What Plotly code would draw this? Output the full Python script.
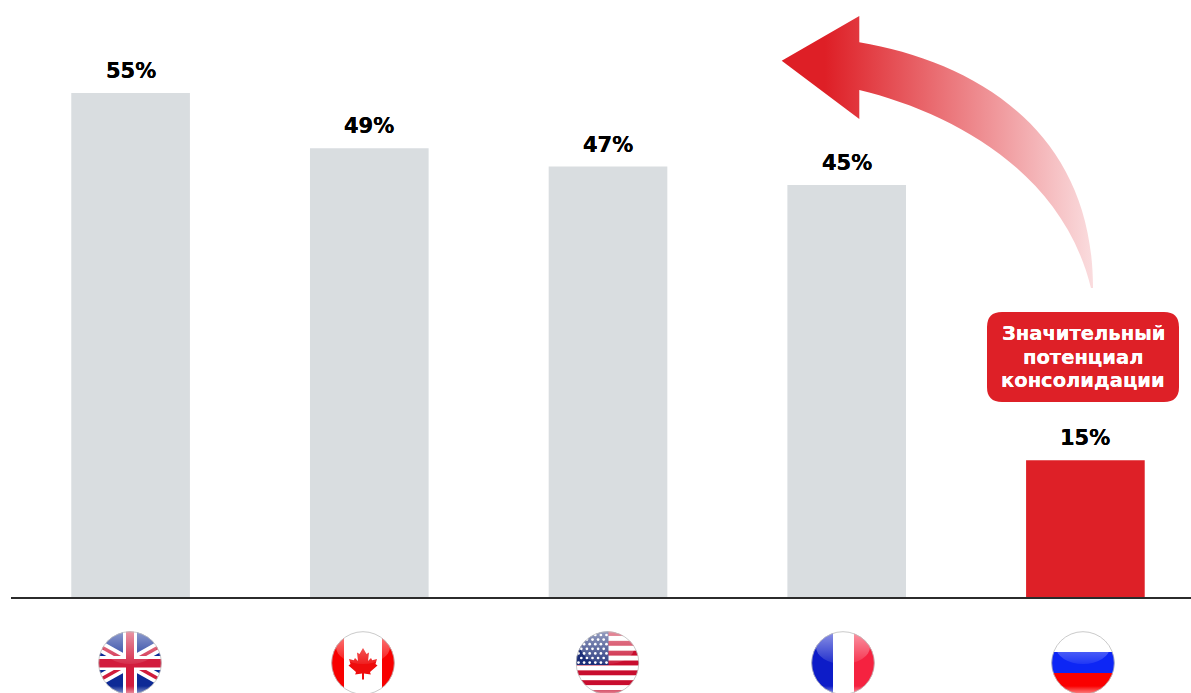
import base64
import plotly.graph_objects as go

# Share of the market held by the leading players, by country
countries = ["Великобритания", "Канада", "США", "Франция", "Россия"]
shares = [55, 49, 47, 45, 15]
grey = "#D9DDE0"
red = "#DE2027"
bar_colors = [grey, grey, grey, grey, red]
callout_lines = ["Значительный", "потенциал", "консолидации"]

W, H = 1191, 693
BASE_Y = 598          # pixel row of the zero line
PX_PER_UNIT = 9.18    # pixels per percentage point
CENTER0, STEP = 130.6, 238.7
HEAVY = "DejaVu Sans"


def data_uri(svg):
    return "data:image/svg+xml;base64," + base64.b64encode(svg.encode("utf-8")).decode()


def px(x):
    return x / W


def py(y):
    return 1 - y / H


def uk_flag():
    diag = ""
    for s in (0.56, -0.56):
        y1, y2 = 32 - 40 * s, 32 + 40 * s
        diag += f'<line x1="-8" y1="{y1}" x2="72" y2="{y2}" stroke="#fff" stroke-width="11"/>'
        diag += f'<line x1="-8" y1="{y1}" x2="72" y2="{y2}" stroke="#CF1E3C" stroke-width="3.5"/>'
    return (
        '<rect width="64" height="64" fill="#0A2A96"/>' + diag +
        '<rect x="25" width="14" height="64" fill="#fff"/><rect y="25" width="64" height="14" fill="#fff"/>'
        '<rect x="28" width="8" height="64" fill="#D21C3E"/><rect y="28" width="64" height="8.5" fill="#D21C3E"/>'
    )


def canada_flag():
    half = [(0, -16), (3.5, -10), (6, -11.5), (5, -3), (8, -6), (9.2, -3.8), (14, -5), (12.5, 0),
            (14.5, 1.5), (7, 8), (7.8, 10.5), (1, 9.5), (1, 15.5)]
    pts = half + [(-x, y) for x, y in reversed(half)]
    leaf = " ".join(f"{32 + x:.1f},{33 + y:.1f}" for x, y in pts)
    return (
        '<rect width="64" height="64" fill="#fff"/>'
        '<rect width="13" height="64" fill="#F80000"/><rect x="51" width="13" height="64" fill="#F80000"/>'
        f'<polygon points="{leaf}" fill="#EE0A0A"/>'
    )


def usa_flag():
    out = '<rect width="64" height="64" fill="#fff"/>'
    for i in range(0, 14, 2):
        out += f'<rect y="{i * 4.92:.2f}" width="64" height="4.92" fill="#C8102E"/>'
    out += '<rect width="33" height="34" fill="#1E2F78"/>'
    for r in range(7):
        for c in range(6):
            x = 3 + c * 5.6 + (2.8 if r % 2 else 0)
            y = 4 + r * 4.6
            if x < 32:
                out += f'<circle cx="{x:.1f}" cy="{y:.1f}" r="1.35" fill="#fff"/>'
    return out


def france_flag():
    return (
        '<rect width="22" height="64" fill="#0A1CC8"/><rect x="22" width="21" height="64" fill="#fff"/>'
        '<rect x="43" width="21" height="64" fill="#F5213F"/>'
    )


def russia_flag():
    return (
        '<rect width="64" height="21" fill="#fff"/><rect y="21" width="64" height="21" fill="#0A28F5"/>'
        '<rect y="42" width="64" height="22" fill="#FA0000"/>'
    )


def glossy_badge(content):
    # Round badge: flag clipped to a circle with a soft highlight above and a glow below
    svg = (
        '<svg xmlns="http://www.w3.org/2000/svg" width="256" height="256" viewBox="0 0 64 64">'
        '<defs><clipPath id="c"><circle cx="32" cy="32" r="31.5"/></clipPath>'
        '<linearGradient id="g" x1="0" y1="0" x2="0" y2="1">'
        '<stop offset="0" stop-color="#fff" stop-opacity="0.55"/>'
        '<stop offset="1" stop-color="#fff" stop-opacity="0.08"/></linearGradient>'
        '<linearGradient id="b" x1="0" y1="0" x2="0" y2="1">'
        '<stop offset="0.86" stop-color="#fff" stop-opacity="0"/>'
        '<stop offset="1" stop-color="#fff" stop-opacity="0.6"/></linearGradient>'
        '<filter id="s"><feGaussianBlur stdDeviation="0.4"/></filter></defs>'
        f'<g clip-path="url(#c)"><g filter="url(#s)">{content}</g>'
        '<rect width="64" height="64" fill="url(#b)"/>'
        '<ellipse cx="32" cy="16" rx="27" ry="17" fill="url(#g)"/></g>'
        '<circle cx="32" cy="32" r="31.3" fill="none" stroke="#BDBDBD" stroke-width="0.8"/></svg>'
    )
    return data_uri(svg)


def curved_arrow():
    # Sweeping arrow that fades from solid red at the head to pale pink at the tail
    path = (
        "M781.7,60.7 L859.3,16 L859.3,42.3 "
        "C975,62 1093,130 1093,288 "
        "L1091,288 C1062,170 950,112 859.3,90 "
        "L859.3,119 Z"
    )
    svg = (
        f'<svg xmlns="http://www.w3.org/2000/svg" width="{W}" height="{H}" viewBox="0 0 {W} {H}">'
        '<defs><linearGradient id="a" gradientUnits="userSpaceOnUse" x1="825" y1="0" x2="1093" y2="0">'
        '<stop offset="0" stop-color="#DE1F26"/><stop offset="1" stop-color="#FADCDE"/>'
        '</linearGradient></defs>'
        f'<path d="{path}" fill="url(#a)"/></svg>'
    )
    return data_uri(svg)


fig = go.Figure(
    go.Bar(
        x=list(range(len(countries))),
        y=shares,
        width=0.497,
        marker=dict(color=bar_colors, line_width=0),
        hoverinfo="skip",
    )
)

images = [
    dict(source=curved_arrow(), xref="paper", yref="paper", x=0, y=1, sizex=1, sizey=1,
         xanchor="left", yanchor="top", sizing="stretch", layer="above"),
]
flag_centers = [130, 363, 607.5, 843, 1083]
for cx, flag in zip(flag_centers, [uk_flag(), canada_flag(), usa_flag(), france_flag(), russia_flag()]):
    images.append(
        dict(source=glossy_badge(flag), xref="paper", yref="paper",
             x=px(cx - 32), y=py(631), sizex=64 / W, sizey=64 / H,
             xanchor="left", yanchor="top", sizing="stretch", layer="above")
    )

# Rounded callout box above the Russian bar
x0, x1, y0, y1, r = 987, 1179, 312, 402, 15
box = (
    f"M{px(x0 + r)},{py(y0)} L{px(x1 - r)},{py(y0)} Q{px(x1)},{py(y0)} {px(x1)},{py(y0 + r)} "
    f"L{px(x1)},{py(y1 - r)} Q{px(x1)},{py(y1)} {px(x1 - r)},{py(y1)} "
    f"L{px(x0 + r)},{py(y1)} Q{px(x0)},{py(y1)} {px(x0)},{py(y1 - r)} "
    f"L{px(x0)},{py(y0 + r)} Q{px(x0)},{py(y0)} {px(x0 + r)},{py(y0)} Z"
)

# Percentage labels sit a fixed distance above each bar
value_labels = [
    dict(text=f"{v}%", x=i, y=v, xref="x", yref="y", xanchor="center", yanchor="middle",
         yshift=22, showarrow=False,
         font=dict(family=HEAVY, size=21, color="#000000", weight="bold", shadow="0 0 0.5px #000"))
    for i, v in enumerate(shares)
]

# One annotation per callout line keeps the tight line spacing
callout_rows = [333, 357, 380]
callout_labels = [
    dict(text=line, xref="paper", yref="paper", x=px(1083), y=py(row),
         xanchor="center", yanchor="middle", showarrow=False,
         font=dict(family=HEAVY, size=19.5, color="#FFFFFF", weight="bold", shadow="0 0 0.5px #fff"))
    for line, row in zip(callout_lines, callout_rows)
]

fig.update_layout(
    width=W,
    height=H,
    margin=dict(l=0, r=0, t=0, b=0),
    paper_bgcolor="#FFFFFF",
    plot_bgcolor="#FFFFFF",
    showlegend=False,
    xaxis=dict(visible=False, range=[-CENTER0 / STEP, (W - CENTER0) / STEP]),
    yaxis=dict(visible=False, range=[-(H - BASE_Y) / PX_PER_UNIT, BASE_Y / PX_PER_UNIT]),
    images=images,
    shapes=[
        dict(type="line", xref="paper", yref="y", x0=px(11), x1=1, y0=0, y1=0,
             line=dict(color="#2B2B2B", width=1.8), layer="above"),
        dict(type="path", xref="paper", yref="paper", path=box, fillcolor=red, line_width=0),
    ],
    annotations=value_labels + callout_labels,
)

fig.write_html("out.html", config=dict(displayModeBar=False))
